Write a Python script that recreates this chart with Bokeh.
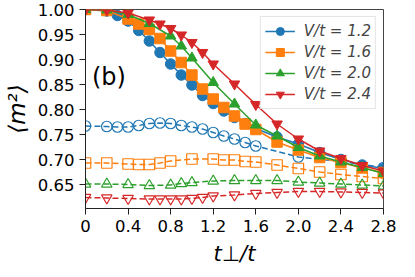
from bokeh.plotting import figure
from bokeh.models import Legend, LegendItem, FixedTicker, Range1d, Label, PrintfTickFormatter
from bokeh.embed import file_html
from bokeh.resources import INLINE

# ---- data ----
x12 = [0, 0.2, 0.3, 0.4, 0.5, 0.6, 0.7, 0.8, 0.9, 1.0, 1.1, 1.2, 1.3, 1.4, 1.5, 1.6, 1.8, 2.0, 2.2, 2.4, 2.6, 2.8]
m12 = [1.000, 0.997, 0.988, 0.977, 0.958, 0.937, 0.914, 0.891, 0.869, 0.849, 0.828, 0.812, 0.797, 0.784, 0.772,
       0.762, 0.745, 0.731, 0.714, 0.700, 0.689, 0.682]

x16 = [0, 0.2, 0.4, 0.5, 0.6, 0.7, 0.8, 0.9, 1.0, 1.1, 1.2, 1.3, 1.4, 1.5, 1.6, 1.8, 2.0, 2.2, 2.4, 2.6, 2.8]
m16 = [1.000, 0.998, 0.981, 0.971, 0.960, 0.942, 0.917, 0.894, 0.869, 0.841, 0.821, 0.804, 0.787, 0.771, 0.760,
       0.735, 0.719, 0.704, 0.694, 0.683, 0.674]

x20 = [0, 0.2, 0.4, 0.6, 0.8, 0.9, 1.0, 1.2, 1.4, 1.6, 1.8, 2.0, 2.2, 2.4, 2.6, 2.8]
m20 = [1.000, 0.999, 0.990, 0.972, 0.947, 0.927, 0.903, 0.854, 0.811, 0.769, 0.747, 0.724, 0.707, 0.695, 0.684, 0.672]

x24 = [0, 0.2, 0.4, 0.6, 0.7, 0.8, 0.9, 1.0, 1.1, 1.2, 1.4, 1.6, 1.8, 2.0, 2.2, 2.4, 2.6, 2.8]
m24 = [1.000, 0.999, 0.993, 0.979, 0.971, 0.962, 0.949, 0.934, 0.914, 0.891, 0.851, 0.810, 0.771, 0.741, 0.717,
       0.702, 0.688, 0.677]

xd12 = [0, 0.2, 0.3, 0.4, 0.5, 0.6, 0.7, 0.8, 0.9, 1.0, 1.1, 1.2, 1.3, 1.4, 1.5, 1.6, 2.0, 2.4, 2.8]
md12 = [0.767, 0.766, 0.765, 0.765, 0.768, 0.772, 0.773, 0.772, 0.768, 0.765, 0.761, 0.754, 0.747, 0.741, 0.734,
        0.727, 0.705, 0.696, 0.684]

xd16 = [0, 0.2, 0.4, 0.5, 0.6, 0.7, 0.8, 1.0, 1.2, 1.3, 1.4, 1.5, 1.6, 1.8, 2.0, 2.2, 2.4, 2.6, 2.8]
md16 = [0.693, 0.693, 0.691, 0.690, 0.690, 0.693, 0.697, 0.701, 0.701, 0.699, 0.699, 0.696, 0.695, 0.689, 0.682,
        0.675, 0.670, 0.666, 0.662]

xd20 = [0, 0.2, 0.4, 0.6, 0.8, 0.9, 1.0, 1.2, 1.4, 1.6, 1.8, 2.0, 2.2, 2.4, 2.6, 2.8]
md20 = [0.651, 0.651, 0.650, 0.648, 0.649, 0.652, 0.654, 0.657, 0.658, 0.658, 0.658, 0.655, 0.653, 0.651, 0.649, 0.647]

xd24 = [0, 0.2, 0.4, 0.6, 0.7, 0.8, 0.9, 1.0, 1.1, 1.2, 1.4, 1.6, 1.8, 2.0, 2.2, 2.4, 2.6, 2.8]
md24 = [0.624, 0.623, 0.622, 0.621, 0.621, 0.621, 0.621, 0.622, 0.624, 0.627, 0.629, 0.632, 0.634, 0.636, 0.636,
        0.635, 0.634, 0.633]

labels = ["V/t = 1.2", "V/t = 1.6", "V/t = 2.0", "V/t = 2.4"]
colors = ["#1f77b4", "#ff7f0e", "#2ca02c", "#d62728"]
markers = ["circle", "square", "triangle", "inverted_triangle"]
x_ticks = [0, 0.4, 0.8, 1.2, 1.6, 2.0, 2.4, 2.8]
y_ticks = [0.65, 0.70, 0.75, 0.80, 0.85, 0.90, 0.95, 1.00]

FONT = "DejaVu Sans"

p = figure(width=407, height=269, output_backend="svg", toolbar_location=None,
           x_range=Range1d(0, 2.8), y_range=Range1d(0.602, 1.0),
           min_border_left=79, min_border_right=24, min_border_top=9, min_border_bottom=61)
p.grid.visible = False
p.outline_line_color = "#444444"
p.outline_line_width = 1
p.background_fill_color = "white"

for ax in (p.xaxis[0], p.yaxis[0]):
    ax.axis_line_color = "#222222"
    ax.major_tick_line_color = "#222222"
    ax.minor_tick_line_color = None
    ax.major_tick_out = 6
    ax.major_tick_in = 0
    ax.major_label_text_font = FONT
    ax.major_label_text_font_size = "16.5px"
    ax.major_label_text_color = "black"
    ax.major_label_standoff = 5
    ax.axis_label_text_font = FONT
    ax.axis_label_text_font_style = "italic"
    ax.axis_label_text_color = "black"

p.xaxis.axis_label_text_font_size = "21px"
p.yaxis.axis_label_text_font_size = "23px"
p.xaxis.ticker = FixedTicker(ticks=x_ticks)
p.xaxis.formatter = PrintfTickFormatter(format="%.1f")
p.xaxis.major_label_overrides = {0: "0"}
p.yaxis.ticker = FixedTicker(ticks=y_ticks)
p.yaxis.formatter = PrintfTickFormatter(format="%.2f")
p.xaxis.axis_label = "t⊥/t"
p.yaxis.axis_label = "⟨m²⟩"
p.xaxis.axis_label_standoff = 7
p.yaxis.axis_label_standoff = 5

solid = [(x12, m12), (x16, m16), (x20, m20), (x24, m24)]
dashed = [(xd12, md12), (xd16, md16), (xd20, md20), (xd24, md24)]

# dashed (open markers)
for (xs, ys), c, mk in zip(dashed, colors, markers):
    p.line(xs, ys, line_color=c, line_width=1.5, line_dash="6 3")
    p.scatter(xs, ys, marker=mk, size=10.5, line_color=c, fill_color=None, line_width=1.2)

items = []
for (xs, ys), c, mk, lab in zip(solid, colors, markers, labels):
    lr = p.line(xs, ys, line_color=c, line_width=1.5)
    sr = p.scatter(xs, ys, marker=mk, size=10.5, line_color=c, fill_color=c)
    items.append(LegendItem(label=lab, renderers=[lr, sr]))

legend = Legend(items=items, location="top_right")
legend.margin = 7
legend.padding = 4
legend.spacing = 1
legend.glyph_width = 30
legend.glyph_height = 20
legend.label_height = 20
legend.label_standoff = 9
legend.label_text_font = FONT
legend.label_text_font_size = "15px"
legend.label_text_font_style = "italic"
legend.border_line_color = "#cccccc"
legend.border_line_width = 1
legend.background_fill_alpha = 0.8
p.add_layout(legend)

p.add_layout(Label(x=0.06, y=0.865, text="(b)", text_font=FONT, text_font_size="24px",
                   text_baseline="middle", text_color="black"))

open("out.html", "w").write(file_html(p, INLINE))
